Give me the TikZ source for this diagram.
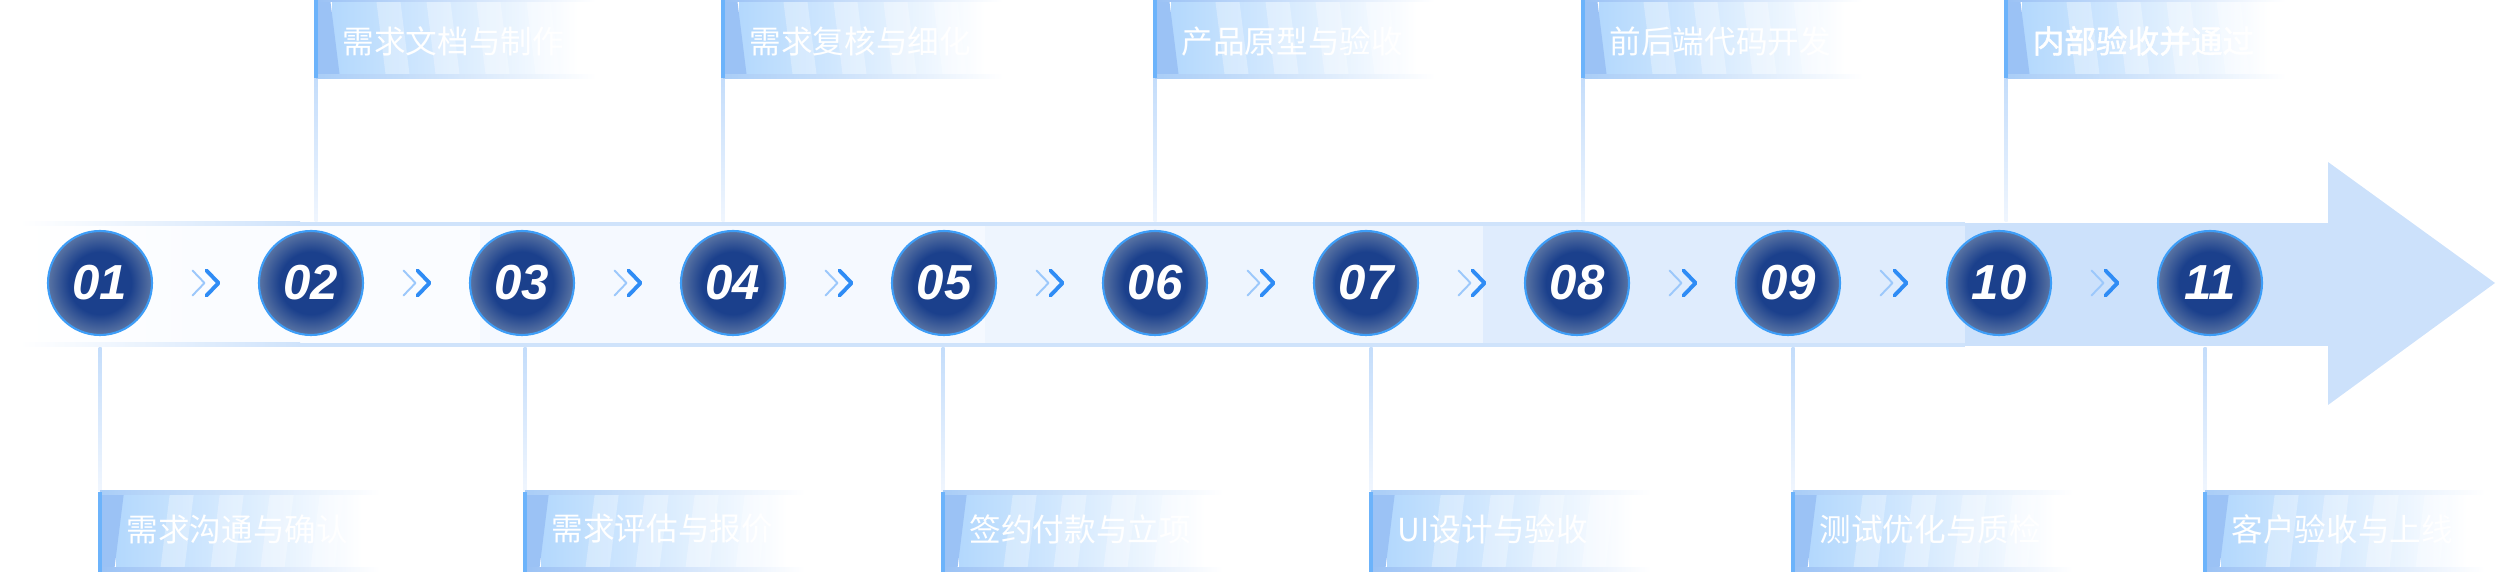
\documentclass[tikz,border=0pt]{standalone}
\usepackage{fontspec}
\setmainfont{Liberation Sans}
\newfontfamily\cjk{Noto Sans CJK SC}
\newfontfamily\cjkbold[FakeBold=1.5]{Noto Sans CJK SC}
\usetikzlibrary{calc}
\definecolor{balldark}{HTML}{1B408C}
\definecolor{ballrim}{HTML}{5A74A3}
\definecolor{ballring}{HTML}{3D9DF7}
\definecolor{bandline}{HTML}{CFE3FB}
\definecolor{segA}{HTML}{FAFCFF}
\definecolor{segB}{HTML}{F5F9FF}
\definecolor{segC}{HTML}{EEF5FE}
\definecolor{segD}{HTML}{DFECFD}
\definecolor{segE}{HTML}{CCE1FB}
\definecolor{tagblue}{HTML}{B3D8FD}
\definecolor{tagstrip}{HTML}{9BC2F5}
\definecolor{tagline}{HTML}{A9CDF7}
\definecolor{tagedge}{HTML}{6CB3FB}
\definecolor{stemtop}{HTML}{C4DDFB}
\definecolor{stembot}{HTML}{F0F6FE}
\definecolor{chevlight}{HTML}{9CC8FB}
\definecolor{chevdark}{HTML}{2F8CF5}
\pgfdeclareradialshading{ballfade}{\pgfpoint{0bp}{0bp}}{color(0bp)=(balldark); color(15bp)=(balldark); color(25bp)=(ballrim); color(50bp)=(ballrim)}
\begin{document}
\begin{tikzpicture}[x=0.1mm, y=-0.1mm, line join=round, line cap=round,
  ball/.style={circle, minimum size=10.4mm, inner sep=0pt, shade, shading=ballfade, draw=ballring, line width=0.6pt, text=white, font=\fontsize{14}{14}\selectfont\bfseries\itshape},
  tagtext/.style={anchor=west, text=white, inner sep=0pt, font=\fontsize{9}{9}\selectfont},
  chevlite/.style={chevlight, line width=0.55pt},
  chevbold/.style={chevdark, line width=1.1pt}]
\useasboundingbox (0,0) rectangle (2500,572);
%Dải nền và mũi tên
\fill[left color=white, right color=segA] (20,223) rectangle (200,346);
\fill[segA] (200,223) rectangle (480,346);
\fill[segB] (480,223) rectangle (985,346);
\fill[segC] (985,223) rectangle (1483,346);
\fill[segD] (1483,223) rectangle (1965,346);
\fill[segE] (1965,223) rectangle (2330,346);
\fill[segE] (2328,162) -- (2495,283) -- (2328,405) -- cycle;
\fill[left color=white, right color=bandline] (20,222) rectangle (300,226);
\fill[left color=white, right color=bandline] (20,343) rectangle (300,347);
\fill[bandline] (300,222) rectangle (1965,226);
\fill[bandline] (300,343) rectangle (1965,347);
%Nhãn
\foreach \i/\L/\s/\txt in {1/100/-1/需求沟通与确认, 2/316/1/需求文档与制作, 3/525/-1/需求评估与报价, 4/723/1/需求复核与细化, 5/943/-1/签约付款与立项, 6/1155/1/产品原型与验收, 7/1371/-1/UI设计与验收, 8/1583/1/前后端代码开发, 9/1793/-1/测试优化与质检, 10/2006/1/内部验收并通过, 11/2205/-1/客户验收与上线}
{
\begin{scope}[shift={(\L,285)}, yscale=\s]
\shade[top color=stemtop, bottom color=stembot] (-1.5,-207) rectangle (1.5,-63);
\fill[left color=tagblue, right color=white] (16,-287) rectangle (262,-207);
\foreach \a in {60,110,160,210}
\fill[white, opacity=.3] (\a,-287) -- ++(24,0) -- ++(10,80) -- ++(-24,0) -- cycle;
\fill[tagstrip] (0,-287) -- (14,-287) -- (24,-207) -- (0,-207) -- cycle;
\fill[left color=tagstrip, right color=white] (0,-287) rectangle (280,-283);
\fill[left color=tagline, right color=white] (0,-210) rectangle (280,-206);
\fill[tagedge] (-2,-287) rectangle (2,-207);
\node[tagtext] (t\i) at (26,-244) {\ifnum\i=10 \cjkbold\else\cjk\fi\txt};
\end{scope}
}
%Các bước
\foreach \i in {1,...,11}
\node[ball] (s\i) at ({100+211*(\i-1)},283) {\ifnum\i<10 0\fi\i};
\foreach \i [count=\j from 2] in {1,...,10}
{
\coordinate (m\i) at ($(s\i)!0.5!(s\j)$);
\draw[chevlite] ($(m\i)+(-13,-12.5)$) -- ++(12,12.5) -- ++(-12,12.5);
\draw[chevbold] ($(m\i)+(1,-12.5)$) -- ++(12,12.5) -- ++(-12,12.5);
}
\end{tikzpicture}
\end{document}
